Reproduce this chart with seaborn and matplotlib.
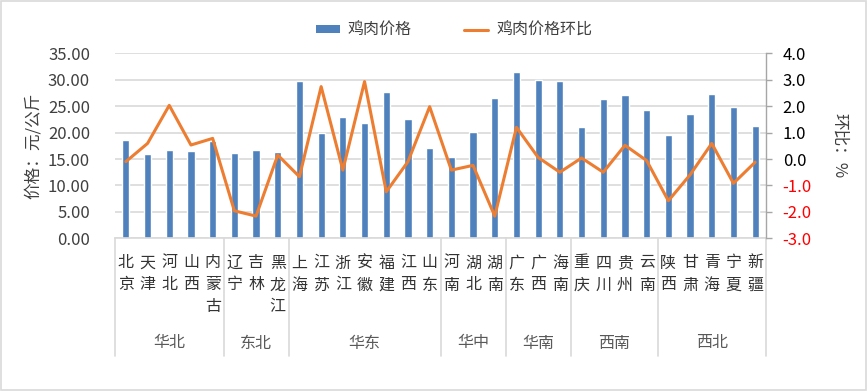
import numpy as np
import pandas as pd
import matplotlib
matplotlib.use("Agg")
import matplotlib.pyplot as plt
import seaborn as sns
from matplotlib.transforms import blended_transform_factory
from matplotlib.lines import Line2D
from matplotlib.patches import Patch, Rectangle

provinces = ["北京", "天津", "河北", "山西", "内蒙古", "辽宁", "吉林", "黑龙江",
             "上海", "江苏", "浙江", "安徽", "福建", "江西", "山东",
             "河南", "湖北", "湖南", "广东", "广西", "海南",
             "重庆", "四川", "贵州", "云南",
             "陕西", "甘肃", "青海", "宁夏", "新疆"]
region_names = ["华北", "东北", "华东", "华中", "华南", "西南", "西北"]
region_sizes = [5, 3, 7, 3, 3, 4, 5]
prices = [18.6, 16.0, 16.7, 16.5, 18.5, 16.1, 16.7, 16.3,
          29.8, 19.9, 22.9, 21.8, 27.7, 22.6, 17.1,
          15.3, 20.1, 26.5, 31.5, 29.9, 29.8,
          21.1, 26.4, 27.1, 24.3,
          19.5, 23.5, 27.3, 24.8, 21.2]
changes = [-0.10, 0.59, 2.03, 0.53, 0.78, -1.96, -2.16, 0.15,
           -0.67, 2.74, -0.42, 2.93, -1.24, -0.10, 1.98,
           -0.42, -0.24, -2.16, 1.20, 0.06, -0.50,
           0.04, -0.50, 0.52, -0.06,
           -1.58, -0.60, 0.59, -0.92, -0.12]
left_ticks = [0, 5, 10, 15, 20, 25, 30, 35]
right_ticks = [-3, -2, -1, 0, 1, 2, 3, 4]

sns.set_theme(style="white")
plt.rcParams['font.family'] = ['Noto Sans CJK SC', 'DejaVu Sans']
plt.rcParams['axes.unicode_minus'] = False

BAR = "#4F81BD"
LINE = "#ED7D31"
GRID = "#D9D9D9"
TXT = "#404040"

n = len(provinces)
df = pd.DataFrame({"province": provinces, "price": prices, "change": changes})
df["pos"] = np.arange(n)

fig = plt.figure(figsize=(8.68, 3.91), dpi=100)
fig.patches.append(Rectangle((0.001, 0.002), 0.997, 0.995, transform=fig.transFigure,
                             fill=False, edgecolor=GRID, linewidth=1.2))
ax = fig.add_axes([115 / 868, 1 - 238.3 / 391, (766 - 115) / 868, (238.3 - 53.3) / 391])

sns.barplot(data=df, x="province", y="price", order=provinces, color=BAR,
            saturation=1, width=0.33, ax=ax)
ax.set_xlim(-0.5, n - 0.5)
ax.set_ylim(0, 35)
ax.set_yticks(left_ticks)
ax.set_yticklabels([f"{v:.2f}" for v in left_ticks], fontsize=12, color=TXT)
ax.tick_params(axis="y", length=0, pad=18)
ax.set_xticks([])
ax.set_xlabel("")
ax.set_ylabel("价格：元/公斤", fontsize=12, color=TXT, labelpad=4)
ax.yaxis.grid(True, color=GRID, linewidth=1.2)
ax.set_axisbelow(True)
for s in ["left", "top", "right"]:
    ax.spines[s].set_visible(False)
ax.spines["bottom"].set_color(GRID)
ax.spines["bottom"].set_linewidth(1.2)

ax2 = ax.twinx()
sns.lineplot(data=df, x="pos", y="change", color=LINE, linewidth=2.2, ax=ax2)
ax2.set_xlim(-0.5, n - 0.5)
ax2.set_ylim(-3, 4)
ax2.set_yticks(right_ticks)
ax2.set_yticklabels([f"{v:.1f}" for v in right_ticks], fontsize=12)
for lab, v in zip(ax2.get_yticklabels(), right_ticks):
    lab.set_color("red" if v < 0 else "black")
ax2.tick_params(axis="y", length=4, width=1, color="#A6A6A6", pad=8, direction="out")
ax2.set_xlabel("")
ax2.set_ylabel("环比：%", fontsize=12, color=TXT, rotation=270, labelpad=26)
ax2.grid(False)
for s in ["left", "top", "bottom"]:
    ax2.spines[s].set_visible(False)
ax2.spines["right"].set_color("#A6A6A6")
ax2.spines["right"].set_linewidth(1.0)

# multi-level category labels
tr = blended_transform_factory(ax.transData, fig.transFigure)
for i, name in enumerate(provinces):
    for j, ch in enumerate(name):
        ax.text(i, 1 - (263 + 22 * j) / 391, ch, transform=tr, ha="center", va="center",
                fontsize=11.5, color="#333333", clip_on=False)

bounds = np.concatenate([[0], np.cumsum(region_sizes)]) - 0.5
for b in bounds:
    ax.add_line(Line2D([b, b], [1 - 238.3 / 391, 1 - 356 / 391], transform=tr,
                       color=GRID, linewidth=1.2, clip_on=False))
for k, rn in enumerate(region_names):
    c = (bounds[k] + bounds[k + 1]) / 2
    ax.text(c, 1 - 343 / 391, rn, transform=tr, ha="center", va="center",
            fontsize=11.5, color="#595959", clip_on=False)

handles = [Patch(facecolor=BAR, edgecolor="none"), Line2D([], [], color=LINE, linewidth=2.2)]
fig.legend(handles, ["鸡肉价格", "鸡肉价格环比"], loc="center", bbox_to_anchor=(0.523, 0.923),
           ncol=2, frameon=False, fontsize=11.5, handlelength=1.5, handleheight=0.45,
           columnspacing=3.3, handletextpad=0.5, labelcolor=TXT)

fig.savefig("out.png", dpi=100)
